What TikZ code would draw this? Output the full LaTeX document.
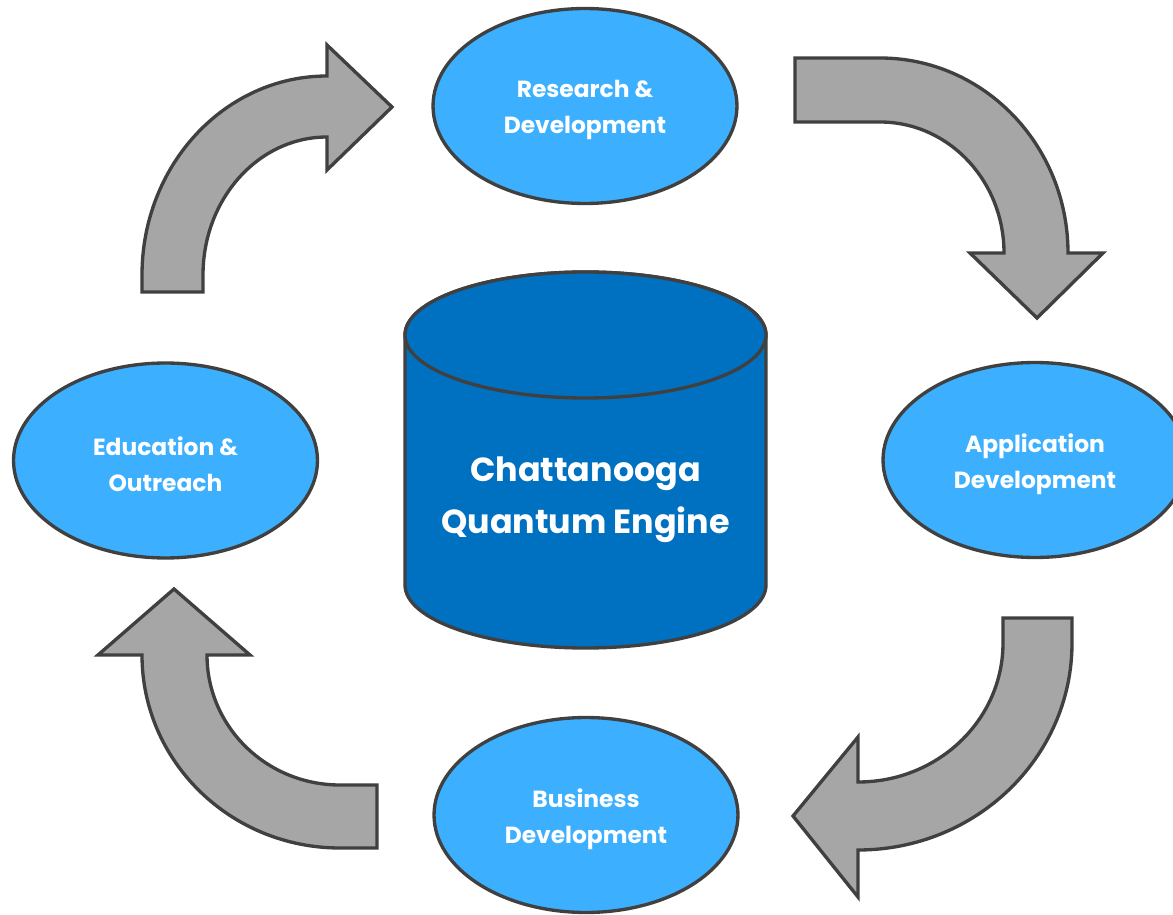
\documentclass[tikz,border=0pt]{standalone}
\usepackage{fontspec}
\setmainfont{Poppins}
\usetikzlibrary{shapes.geometric}
\definecolor{lightblue}{RGB}{60,176,255}
\definecolor{darkblue}{RGB}{0,112,192}
\definecolor{edgegray}{RGB}{64,64,64}
\definecolor{arrowgray}{RGB}{166,166,166}
\tikzset{
  oval/.style={ellipse, draw=edgegray, line width=1.9pt, fill=lightblue,
    minimum width=6.08cm, minimum height=3.9cm, inner sep=0pt,
    text=white, align=center, font=\fontsize{13.3}{20.5}\selectfont\bfseries},
  ovaltext/.style={text=white, align=center, font=\fontsize{13.3}{20.5}\selectfont\bfseries, yshift=-2.4pt},
  bentarrow/.style={draw=edgegray, line width=1.9pt, fill=arrowgray, line join=miter},
  cyl/.style={draw=edgegray, line width=1.9pt, fill=darkblue},
  cyltext/.style={text=white, align=center, font=\fontsize{19}{29.6}\selectfont\bfseries, yshift=-2.6pt}
}
\begin{document}
\begin{tikzpicture}[x=0.02cm, y=-0.02cm]
\clip (0,0) rectangle (1173,915);
\fill[white] (0,0) rectangle (1173,915);

% cylinder
\draw[cyl] (405,335) -- (405,585) arc[start angle=180, end angle=0, x radius=180.5, y radius=63]
  -- (766,335) arc[start angle=0, end angle=-180, x radius=180.5, y radius=63] -- cycle;
\draw[cyl] (585.5,335) ellipse[x radius=180.5, y radius=63];
\node[cyltext] (engine) at (585.5,495) {Chattanooga\\Quantum Engine};

% ovals
\node[oval] (rd) at (585,106) {};
\node[ovaltext] (rdt) at (rd.center) {Research \&\\Development};
\node[oval] (app) at (1035,460) {};
\node[ovaltext] (appt) at (app.center) {Application\\Development};
\node[oval] (bus) at (586,815) {};
\node[ovaltext] (bust) at (bus.center) {Business\\Development};
\node[oval] (edu) at (165.5,460.5) {};
\node[ovaltext] (edut) at (edu.center) {Education \&\\Outreach};

% curved arrows
\draw[bentarrow] (142,292) -- (142,275) arc[start angle=180, end angle=270, x radius=185, y radius=199]
  -- (327,45) -- (392,107) -- (327,170) -- (327,137)
  arc[start angle=270, end angle=180, x radius=124, y radius=138] -- (203,292) -- cycle;

\draw[bentarrow] (795,58) -- (880,58) arc[start angle=270, end angle=360, x radius=188, y radius=195]
  -- (1103,253) -- (1037,318) -- (970,253) -- (1004,253)
  arc[start angle=0, end angle=-90, x radius=124, y radius=131] -- (795,122) -- cycle;

\draw[bentarrow] (1003,618) -- (1072,618) -- (1072,643) arc[start angle=0, end angle=90, x radius=214, y radius=207]
  -- (858,897) -- (793,816) -- (858,737) -- (858,782)
  arc[start angle=90, end angle=0, x radius=145, y radius=139] -- cycle;

\draw[bentarrow] (377,848) -- (340,848) arc[start angle=90, end angle=180, x radius=198, y radius=193]
  -- (98,655) -- (174,589) -- (250,655) -- (207,655)
  arc[start angle=180, end angle=90, x radius=133, y radius=130] -- (377,785) -- cycle;
\end{tikzpicture}
\end{document}
